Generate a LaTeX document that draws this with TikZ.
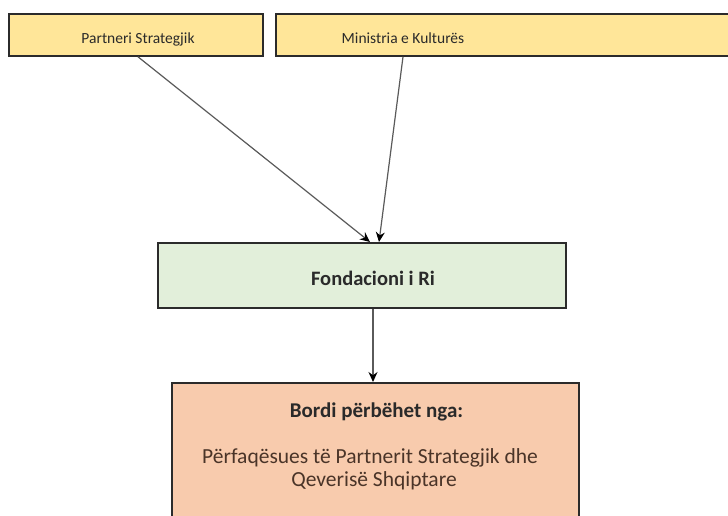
\documentclass[tikz,border=0pt]{standalone}
\usepackage{fontspec}
\setmainfont{Carlito}
\usetikzlibrary{arrows.meta}
\definecolor{ylw}{HTML}{FFE699}
\definecolor{grn}{HTML}{E2EFDA}
\definecolor{org}{HTML}{F8CBAD}
\definecolor{bord}{HTML}{2B2B2B}
\definecolor{lin}{HTML}{5A5A5A}
\definecolor{txt}{HTML}{2A2A2A}
\definecolor{otxt}{HTML}{4A3428}
\tikzset{
  boxst/.style={draw=bord, line width=1.8pt, inner sep=0pt, anchor=north west},
  lbl/.style={inner sep=0pt, anchor=base, text=txt, font=\fontsize{15.5}{18}\selectfont},
  olbl/.style={lbl, text=otxt, font=\fontsize{21.5}{25}\selectfont},
  conn/.style={draw=lin, line width=1.2pt, -{Stealth[length=10pt,width=9pt,color=black]}},
}
\begin{document}
\begin{tikzpicture}[x=1pt,y=-1pt]
\useasboundingbox (0,0) rectangle (728,515);
\clip (0,0) rectangle (728,515);
\fill[white] (0,0) rectangle (728,515);
% top boxes
\node[boxst, fill=ylw, minimum width=254pt, minimum height=42pt] (ps) at (8,13) {};
\node[lbl] (pst) at (138,43.5) {Partneri Strategjik};
\node[boxst, fill=ylw, minimum width=470pt, minimum height=42pt] (mk) at (275,13) {};
\node[lbl] (mkt) at (403,43.5) {Ministria e Kulturës};
% middle box
\node[boxst, fill=grn, minimum width=408pt, minimum height=65pt] (fr) at (157,242) {};
\node[lbl, font=\fontsize{20.5}{24}\selectfont\bfseries] (frt) at (373,285.5) {Fondacioni i Ri};
% bottom box
\node[boxst, fill=org, minimum width=407pt, minimum height=160pt] (bd) at (171,382) {};
\node[lbl, font=\fontsize{21}{24}\selectfont\bfseries] (bdt) at (376.5,417) {Bordi përbëhet nga:};
\node[olbl] (bdd1) at (370,463) {Përfaqësues të Partnerit Strategjik dhe};
\node[olbl] (bdd2) at (374,486.5) {Qeverisë Shqiptare};
% connectors
\coordinate (ps0) at (pst.center |- ps.south);
\coordinate (mk0) at (mkt.center |- mk.south);
\coordinate (in1) at ([xshift=-3pt]frt.center |- fr.north);
\coordinate (in2) at ([xshift=6pt]frt.center |- fr.north);
\coordinate (out) at (frt.center |- fr.south);
\coordinate (in3) at (frt.center |- bd.north);
\draw[conn] (ps0) -- (in1);
\draw[conn] (mk0) -- (in2);
\draw[conn] (out) -- (in3);
\end{tikzpicture}
\end{document}
